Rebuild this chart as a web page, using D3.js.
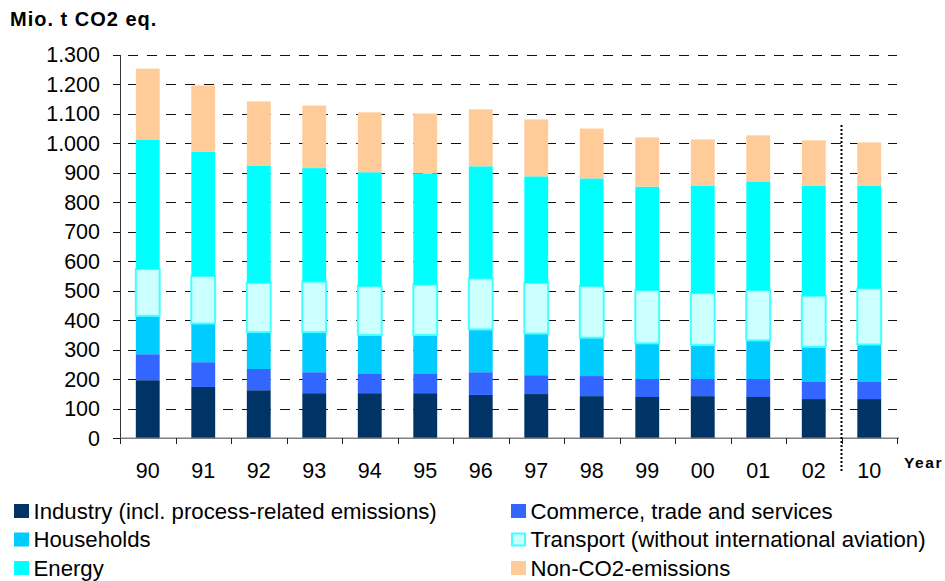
<!DOCTYPE html>
<html>
<head>
<meta charset="utf-8">
<script src="https://cdn.jsdelivr.net/npm/d3@7"></script>
<style>
  html, body { margin: 0; padding: 0; background: #fff; }
  svg { display: block; font-family: "Liberation Sans", Arial, sans-serif; }
</style>
</head>
<body>
<svg id="chart" width="945" height="581"></svg>
<script>
// ---- data ----
const years = ["90","91","92","93","94","95","96","97","98","99","00","01","02","10"];
const industry   = [197,174,163,153,153,153,147,150,143,140,143,140,133,133];
const commerce   = [ 88, 84, 72, 71, 65, 65, 77, 64, 68, 61, 58, 61, 58, 58];
const households = [130,131,125,136,132,132,145,141,130,121,115,131,119,127];
const transport  = [159,161,167,171,166,171,173,172,175,180,176,170,173,190];
const energy     = [439,422,398,385,386,377,380,361,365,351,365,369,374,349];
const nonCO2     = [240,224,217,212,203,203,193,193,169,167,156,156,153,146];
const seriesNames = ["Industry (incl. process-related emissions)", "Commerce, trade and services",
  "Households", "Transport (without international aviation)", "Energy", "Non-CO2-emissions"];
const yTickValues = [0,100,200,300,400,500,600,700,800,900,1000,1100,1200,1300];
const yTickLabels = ["0","100","200","300","400","500","600","700","800","900","1.000","1.100","1.200","1.300"];

const seriesKeys = ["industry","commerce","households","transport","energy","nonCO2"];
const seriesData = {industry, commerce, households, transport, energy, nonCO2};
const colors = {industry:"#003366", commerce:"#3366FF", households:"#00CCFF",
  transport:"#CCFFFF", energy:"#00FFFF", nonCO2:"#FFCC99"};

const table = years.map((yr,i) => {
  const row = {year: yr};
  seriesKeys.forEach(k => row[k] = seriesData[k][i]);
  return row;
});

const svg = d3.select("#chart");
const pLeft = 120, pRight = 897, pTop = 54.8, pBottom = 438.3;

const x = d3.scaleBand().domain(years).range([pLeft, pRight]).padding(0);
const y = d3.scaleLinear().domain([0, 1300]).range([pBottom, pTop]);
const barW = x.bandwidth() * 0.43;
const crisp = v => Math.round(v) + 0.5;

// gridlines
svg.append("g").selectAll("line").data(yTickValues.filter(v => v > 0)).join("line")
  .attr("x1", pLeft).attr("x2", pRight)
  .attr("y1", d => crisp(y(d))).attr("y2", d => crisp(y(d)))
  .attr("stroke", "#111").attr("stroke-width", 1)
  .attr("stroke-dasharray", "10,9").attr("stroke-dashoffset", -8)
  .attr("shape-rendering", "crispEdges");

// stacked bars
const stack = d3.stack().keys(seriesKeys)(table);
const g = svg.append("g");
stack.forEach(layer => {
  const key = layer.key;
  g.append("g").selectAll("rect").data(layer).join("rect")
    .attr("x", d => x(d.data.year) + (x.bandwidth() - barW) / 2)
    .attr("width", barW)
    .attr("y", d => y(d[1]))
    .attr("height", d => y(d[0]) - y(d[1]))
    .attr("fill", colors[key])
    .attr("stroke", key === "transport" ? "#44FFFF" : "none")
    .attr("stroke-width", key === "transport" ? 2 : 0);
});

// y axis
const yAxis = d3.axisLeft(y).tickValues(yTickValues)
  .tickFormat((d,i) => yTickLabels[i]).tickSize(0).tickPadding(20);
const ya = svg.append("g").attr("transform", `translate(${pLeft},0)`).call(yAxis);
ya.select(".domain").remove();
ya.selectAll("text").attr("font-size", 21.5).attr("fill", "#000")
  .attr("font-family", "'Liberation Sans', Arial, sans-serif");
svg.append("g").selectAll("line").data(yTickValues).join("line")
  .attr("x1", pLeft - 7).attr("x2", pLeft + 1)
  .attr("y1", d => crisp(y(d))).attr("y2", d => crisp(y(d)))
  .attr("stroke", "#111").attr("shape-rendering", "crispEdges");
svg.append("line").attr("x1", pLeft + 0.5).attr("x2", pLeft + 0.5)
  .attr("y1", crisp(y(1300)) - 0.5).attr("y2", pBottom + 1)
  .attr("stroke", "#333").attr("shape-rendering", "crispEdges");

// x axis baseline
svg.append("line").attr("x1", pLeft).attr("x2", pRight + 2)
  .attr("y1", pBottom).attr("y2", pBottom)
  .attr("stroke", "#808080").attr("stroke-width", 1.6);
// x ticks at band boundaries
const bounds = years.map(yv => x(yv)).concat([x(years[years.length-1]) + x.bandwidth()]);
svg.append("g").selectAll("line").data(bounds).join("line")
  .attr("x1", d => crisp(d)).attr("x2", d => crisp(d))
  .attr("y1", pBottom).attr("y2", pBottom + 6)
  .attr("stroke", "#222").attr("stroke-width", 1).attr("shape-rendering", "crispEdges");
// x labels
svg.append("g").selectAll("text").data(years).join("text")
  .attr("x", d => x(d) + x.bandwidth() / 2)
  .attr("y", 478)
  .attr("text-anchor", "middle")
  .attr("font-size", 21.5)
  .text(d => d);

// dotted separator between 02 and 10
const sepX = x("10");
svg.append("line").attr("x1", sepX).attr("x2", sepX)
  .attr("y1", 125).attr("y2", 472)
  .attr("stroke", "#000").attr("stroke-width", 2).attr("stroke-dasharray", "2,2");

// titles
svg.append("text").attr("x", 10).attr("y", 26)
  .attr("font-size", 20).attr("font-weight", "bold").attr("letter-spacing", 1)
  .text("Mio. t CO2 eq.");
svg.append("text").attr("x", 904).attr("y", 468)
  .attr("font-size", 15.5).attr("font-weight", "bold").attr("letter-spacing", 1.6)
  .text("Year");

// legend
const legendItems = [
  {key:"industry", col:0, row:0}, {key:"commerce", col:1, row:0},
  {key:"households", col:0, row:1}, {key:"transport", col:1, row:1},
  {key:"energy", col:0, row:2}, {key:"nonCO2", col:1, row:2}
];
const colX = [14, 511], rowY = [504, 532.5, 561];
const lg = svg.append("g").selectAll("g").data(legendItems).join("g")
  .attr("transform", d => `translate(${colX[d.col]},${rowY[d.row]})`);
lg.append("rect")
  .attr("x", d => d.key === "transport" ? 1 : 0)
  .attr("y", d => d.key === "transport" ? 1 : 0)
  .attr("width", d => d.key === "transport" ? 13 : 15)
  .attr("height", d => d.key === "transport" ? 12 : 14)
  .attr("fill", d => colors[d.key])
  .attr("stroke", d => d.key === "transport" ? "#44FFFF" : "none")
  .attr("stroke-width", 2);
lg.append("text").attr("x", 19.5).attr("y", 14.5)
  .attr("font-size", 22.2)
  .text(d => seriesNames[seriesKeys.indexOf(d.key)]);
</script>
</body>
</html>
